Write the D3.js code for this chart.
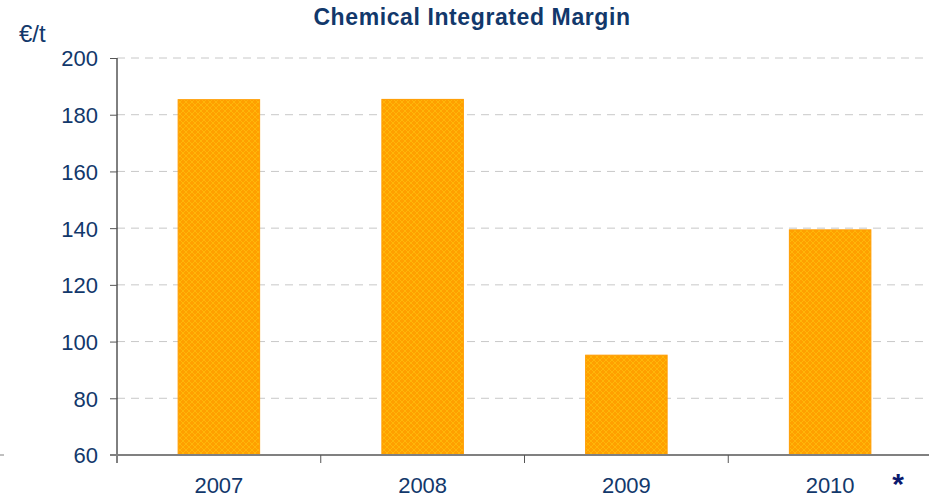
<!DOCTYPE html>
<html>
<head>
<meta charset="utf-8">
<script src="https://cdn.jsdelivr.net/npm/d3@7"></script>
<style>
  body { margin: 0; background: #fff; }
  svg { display: block; font-family: "Liberation Sans", Arial, sans-serif; }
</style>
</head>
<body>
<svg id="chart" width="929" height="502"></svg>
<script>
const years = ["2007", "2008", "2009", "2010"];
const margins = [185.3, 185.4, 95.2, 139.4];
const yTicks = [60, 80, 100, 120, 140, 160, 180, 200];

const navy = "#12386b";
const svg = d3.select("#chart");

const x = d3.scaleBand().domain(years).range([117, 932]).paddingInner(0.6).paddingOuter(0.3);
const y = d3.scaleLinear().domain([60, 200]).range([455, 58]);

// hatch pattern for bars
const defs = svg.append("defs");
const pat = defs.append("pattern")
    .attr("id", "hatch")
    .attr("patternUnits", "userSpaceOnUse")
    .attr("width", 6).attr("height", 6);
pat.append("rect").attr("width", 6).attr("height", 6).attr("fill", "#ffa000");
pat.append("path")
    .attr("d", "M0,0 L6,6 M6,0 L0,6")
    .attr("stroke", "#ffb60a").attr("stroke-width", 1);

// grid lines
svg.append("g")
    .selectAll("line")
    .data(yTicks.filter(d => d > 60))
    .enter().append("line")
    .attr("x1", 117).attr("x2", 929)
    .attr("y1", d => y(d)).attr("y2", d => y(d))
    .attr("stroke", "#c8c8c8")
    .attr("stroke-dasharray", "8,6");

// bars
svg.append("g")
    .selectAll("rect")
    .data(years)
    .enter().append("rect")
    .attr("x", d => x(d))
    .attr("y", (d, i) => y(margins[i]))
    .attr("width", x.bandwidth())
    .attr("height", (d, i) => y(60) - y(margins[i]))
    .attr("fill", "url(#hatch)")
    .attr("stroke", "#ff9c00")
    .attr("stroke-width", 1);

// y axis
const yAxis = svg.append("g")
    .attr("transform", "translate(117,0)")
    .call(d3.axisLeft(y).tickValues(yTicks).tickSize(7).tickPadding(12).tickSizeOuter(0));
yAxis.select(".domain").attr("stroke", "#000").attr("d", "M0,58V463");
yAxis.selectAll(".tick line").attr("stroke", "#555");
yAxis.selectAll("text")
    .attr("fill", navy)
    .attr("dy", "0.36em")
    .style("font-size", "22px")
    .style("font-family", "Liberation Sans, Arial, sans-serif");

// x axis
const xAxis = svg.append("g")
    .attr("transform", "translate(0,455)");
xAxis.append("line")
    .attr("x1", 110).attr("x2", 929)
    .attr("stroke", "#808080").attr("stroke-width", 2);
xAxis.selectAll(".sep")
    .data(years.slice(1))
    .enter().append("line")
    .attr("class", "sep")
    .attr("x1", d => x(d) - x.step() * 0.3)
    .attr("x2", d => x(d) - x.step() * 0.3)
    .attr("y1", 0).attr("y2", 8)
    .attr("stroke", "#555");
xAxis.selectAll("text")
    .data(years)
    .enter().append("text")
    .attr("x", d => x(d) + x.bandwidth() / 2)
    .attr("y", 38)
    .attr("text-anchor", "middle")
    .attr("fill", navy)
    .style("font-size", "22px")
    .text(d => d);

// title and unit
svg.append("text")
    .attr("x", 472).attr("y", 25)
    .attr("text-anchor", "middle")
    .attr("fill", navy)
    .style("font-size", "23px")
    .style("letter-spacing", "0.6px")
    .style("font-weight", "bold")
    .text("Chemical Integrated Margin");

svg.append("text")
    .attr("x", 19).attr("y", 42)
    .attr("fill", navy)
    .style("font-size", "24px")
    .text("€/t");

svg.append("text")
    .attr("x", 898).attr("y", 494)
    .attr("text-anchor", "middle")
    .attr("fill", "#0a1a6e")
    .style("font-size", "30px")
    .style("font-weight", "bold")
    .text("*");

// small stray mark on left edge
svg.append("line")
    .attr("x1", 0).attr("x2", 4).attr("y1", 455).attr("y2", 455)
    .attr("stroke", "#808080");
</script>
</body>
</html>
